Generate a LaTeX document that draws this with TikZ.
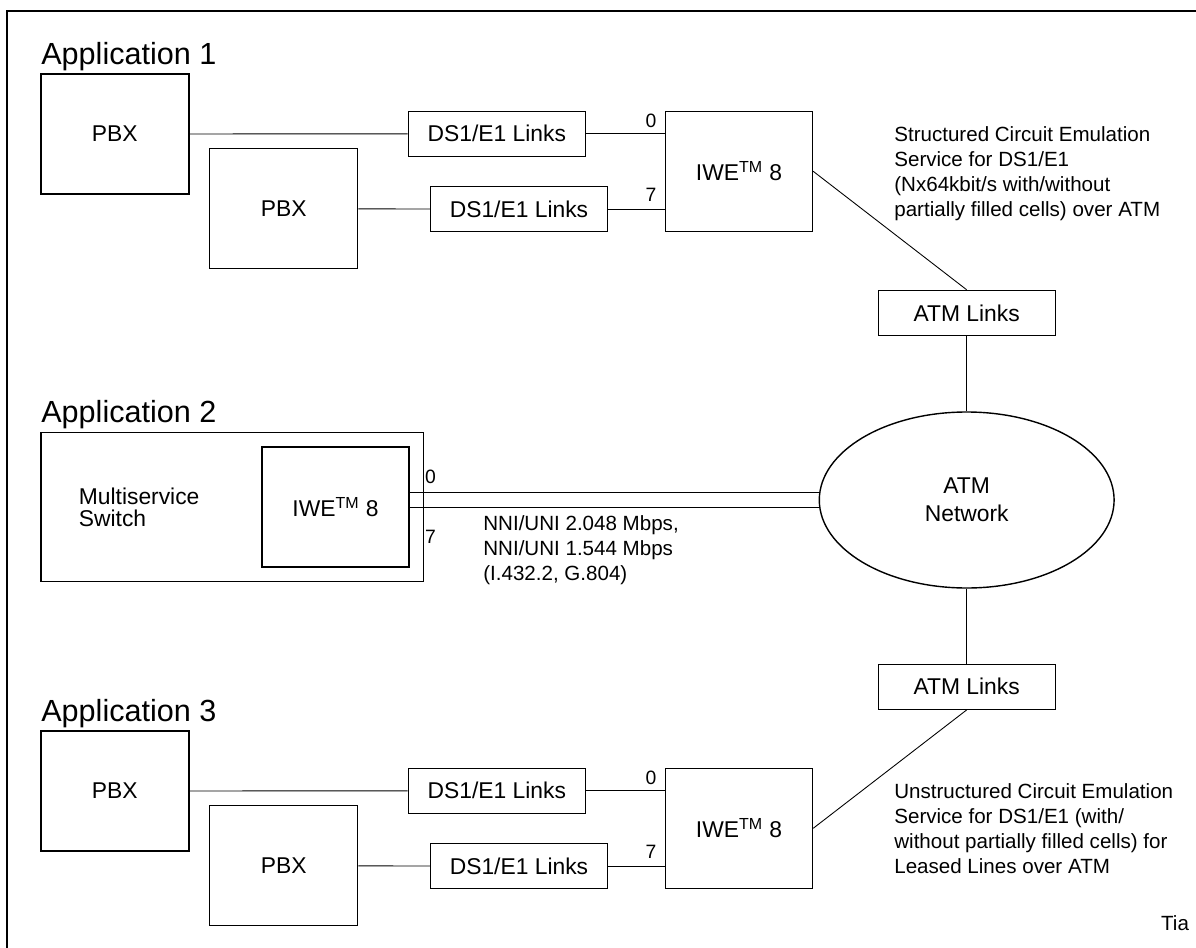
\documentclass[tikz,border=0pt]{standalone}
\usepackage{fontspec}
\setmainfont{Liberation Sans}
\usetikzlibrary{shapes.geometric}
\newcommand{\fntApp}{\fontsize{17.4}{20}\selectfont}
\newcommand{\fntBox}{\fontsize{13}{16}\selectfont}
\newcommand{\fntSw}{\fontsize{13}{12.2}\selectfont}
\newcommand{\fntNote}{\fontsize{11.7}{14.2}\selectfont}
\newcommand{\fntPort}{\fontsize{11}{13}\selectfont}
\newcommand{\iwe}{IWE\textsuperscript{TM} 8}
\tikzset{
	apptitle/.style={anchor=base west, inner sep=0pt, font=\fntApp},
	unit/.style={draw, line width=0.8pt, inner sep=0pt, font=\fntBox},
	pbx/.style={unit, minimum width=29.6mm, minimum height=24mm},
	links/.style={unit, minimum width=35.4mm, minimum height=9mm},
	iwebox/.style={unit, minimum width=29.4mm, minimum height=24mm},
	port/.style={inner sep=0pt, font=\fntPort},
	note/.style={anchor=north west, align=left, inner sep=0pt, font=\fntNote},
	wire/.style={line width=0.5pt}
}

\begin{document}
\begin{tikzpicture}[x=0.2mm,y=-0.2mm]
			\useasboundingbox (0,0) rectangle (1196,948);
			% draw frame
			\draw[line width=1.1pt] (7,960) -- (7,11) -- (1210,11);
			
			% application 1
			\node[apptitle] (appA) at (41,64.7) {Application 1};
			\node[pbx] (pbxA1) at (114.85,134) {PBX};
			\node[pbx] (pbxA2) at (283.65,208.7) {PBX};
			\node[links] (lnkA1) at (496.8,133.8) {DS1/E1 Links};
			\node[links] (lnkA2) at (519,209.2) {DS1/E1 Links};
			\node[iwebox] (iweA) at (739,171.3) {\iwe};
			\node[port] (pA0) at (651,120.7) {0};
			\node[port] (pA7) at (651,195.3) {7};
			\node[links] (atmA) at (966.7,313) {ATM Links};
			\node[note] (noteA) at (894,126.3) {Structured Circuit Emulation\\Service for DS1/E1\\(Nx64kbit/s with/without\\partially filled cells) over ATM};
			% connect
			\draw[wire] (pbxA1) -- (lnkA1);
			\draw[wire] (pbxA2) -- (lnkA2);
			\draw[wire] (lnkA1.east) -- (lnkA1.east -| iweA.west);
			\draw[wire] (lnkA2.east) -- (lnkA2.east -| iweA.west);
			\draw[wire] (iweA.east) -- (atmA.north);
			
			% application 2
			\node[apptitle] (appB) at (41,422.8) {Application 2};
			\node[unit, minimum width=76.46mm, minimum height=29.8mm] (sw) at (232.15,507.2) {};
			\node[anchor=west, align=left, inner sep=0pt, font=\fntSw] (swtxt) at (78.5,507.2) {Multiservice\\Switch};
			\node[iwebox] (iweB) at (335.55,507) {\iwe};
			\node[port] (pB0) at (430.5,476.7) {0};
			\node[port] (pB7) at (430.5,536.7) {7};
			\node[unit, ellipse, align=center, minimum width=58.96mm, minimum height=35.2mm] (net) at (966.7,500) {ATM\\Network};
			\draw[wire] (iweB.east |- 0,492.3) -- (net.west |- 0,492.3);
			\draw[wire] (iweB.east |- 0,507.3) -- (net.west |- 0,507.3);
			\node[note] (noteB) at (483,515.7) {NNI/UNI 2.048 Mbps,\\NNI/UNI 1.544 Mbps\\(I.432.2, G.804)};
			
			% application 3
			\node[apptitle] (appC) at (41,721.7) {Application 3};
			\node[pbx] (pbxC1) at (114.85,791) {PBX};
			\node[pbx] (pbxC2) at (283.65,865.7) {PBX};
			\node[links] (lnkC1) at (496.8,790.8) {DS1/E1 Links};
			\node[links] (lnkC2) at (519,866.2) {DS1/E1 Links};
			\node[iwebox] (iweC) at (739,828.3) {\iwe};
			\node[port] (pC0) at (651,777.7) {0};
			\node[port] (pC7) at (651,852.3) {7};
			\node[links] (atmC) at (966.7,686.7) {ATM Links};
			\node[note] (noteC) at (894,783.3) {Unstructured Circuit Emulation\\Service for DS1/E1 (with/\\without partially filled cells) for\\Leased Lines over ATM};
			% connect
			\draw[wire] (pbxC1) -- (lnkC1);
			\draw[wire] (pbxC2) -- (lnkC2);
			\draw[wire] (lnkC1.east) -- (lnkC1.east -| iweC.west);
			\draw[wire] (lnkC2.east) -- (lnkC2.east -| iweC.west);
			\draw[wire] (atmC.south) -- (iweC.east);
			
			% network links
			\draw[wire] (atmA.south) -- (net.north);
			\draw[wire] (net.south) -- (atmC.north);
			
			\node[anchor=base east, inner sep=0pt, font=\fntNote] (tia) at (1189.3,930.7) {Tia};
		\end{tikzpicture}
\end{document}
